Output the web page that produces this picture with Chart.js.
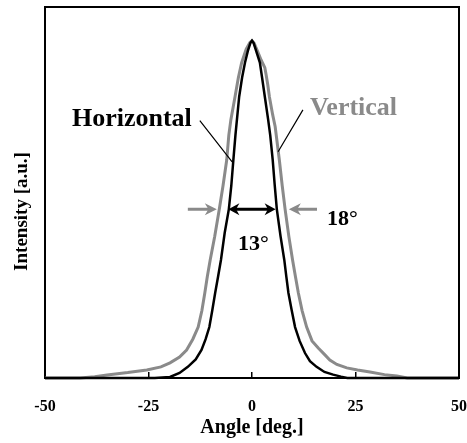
<!DOCTYPE html>
<html>
<head>
<meta charset="utf-8">
<script src="https://cdn.jsdelivr.net/npm/chart.js@4/dist/chart.umd.min.js"></script>
<style>
  html, body { margin: 0; padding: 0; background: #fff; }
  #wrap { width: 467px; height: 443px; }
</style>
</head>
<body>
<div id="wrap"><canvas id="profileChart"></canvas></div>
<script>
const angleTicks = [-50, -25, 0, 25, 50];

// Horizontal (black) beam profile
const horizontalAngle = [-50, -23.5, -19.8, -17.5, -15.5, -13.6, -12.2, -11.2, -10.3, -9.6, -8.9, -8.2, -7.5, -6.6, -5.6, -5.0, -4.5, -4.0, -3.1, -2.4, -1.7, -1.0, -0.4, 0, 0.4, 1.0, 1.9, 2.5, 3.1, 3.9, 4.4, 5.0, 5.5, 6.0, 6.9, 7.8, 8.3, 8.8, 9.6, 10.4, 11.5, 12.8, 14.0, 15.6, 17.5, 19.6, 21.5, 23.0, 50];
const horizontalIntensity = [0, 0, 0.003, 0.015, 0.033, 0.055, 0.083, 0.115, 0.151, 0.2, 0.252, 0.3, 0.35, 0.43, 0.5, 0.57, 0.647, 0.72, 0.834, 0.89, 0.935, 0.97, 0.993, 1, 0.993, 0.97, 0.935, 0.885, 0.834, 0.766, 0.72, 0.647, 0.57, 0.5, 0.42, 0.35, 0.3, 0.252, 0.2, 0.151, 0.11, 0.074, 0.05, 0.033, 0.018, 0.01, 0.004, 0, 0];

// Vertical (gray) beam profile
const verticalAngle = [-50, -41.5, -38, -35, -30, -25.4, -22, -19.8, -17.5, -15.8, -14.3, -13.0, -12.1, -11.4, -10.8, -10.1, -9.0, -7.9, -7.0, -6.1, -5.6, -5.1, -4.1, -3.3, -2.5, -1.4, -0.5, 0, 0.5, 1.3, 2.2, 3.1, 3.4, 3.8, 4.2, 5.0, 5.6, 6.6, 7.3, 8.0, 8.9, 9.8, 10.5, 11.2, 12.1, 13.2, 14.5, 16.0, 17.5, 18.8, 20.5, 22.9, 25.5, 28.5, 32, 35, 37.5, 50];
const verticalIntensity = [0, 0, 0.004, 0.009, 0.016, 0.024, 0.033, 0.045, 0.062, 0.083, 0.115, 0.151, 0.2, 0.252, 0.3, 0.35, 0.42, 0.5, 0.57, 0.647, 0.72, 0.766, 0.834, 0.89, 0.935, 0.975, 0.995, 1, 0.993, 0.97, 0.943, 0.92, 0.9, 0.87, 0.834, 0.78, 0.745, 0.647, 0.57, 0.5, 0.42, 0.35, 0.3, 0.252, 0.2, 0.151, 0.11, 0.089, 0.07, 0.053, 0.04, 0.03, 0.024, 0.018, 0.01, 0.006, 0, 0];

const GRAY = "#8a8a8a";
const SERIF = "'Liberation Serif', 'Times New Roman', serif";

Chart.defaults.font.family = SERIF;
Chart.defaults.font.weight = "bold";
Chart.defaults.color = "#000";

function toPoints(xs, ys) {
    return xs.map((x, i) => ({ x: x, y: ys[i] }));
}

function arrowHead(ctx, tipX, tipY, dir, len, half) {
    ctx.beginPath();
    ctx.moveTo(tipX, tipY);
    ctx.lineTo(tipX - dir * len, tipY - half);
    ctx.lineTo(tipX - dir * len * 0.7, tipY);
    ctx.lineTo(tipX - dir * len, tipY + half);
    ctx.closePath();
    ctx.fill();
}

// frame (top/right) + labels, leader lines and FWHM arrows
const annotations = {
    id: "annotations",
    afterDatasetsDraw(chart) {
        const { ctx, chartArea: a, scales } = chart;
        const px = (v) => scales.x.getPixelForValue(v);
        const py = (v) => scales.y.getPixelForValue(v);
        ctx.save();

        ctx.strokeStyle = "#000";
        ctx.lineWidth = 2;
        ctx.beginPath();
        ctx.moveTo(a.left - 1, a.top);
        ctx.lineTo(a.right, a.top);
        ctx.lineTo(a.right, a.bottom + 1);
        ctx.stroke();

        ctx.textBaseline = "alphabetic";
        ctx.textAlign = "left";
        ctx.font = "bold 26px " + SERIF;
        ctx.fillStyle = "#000";
        ctx.fillText("Horizontal", px(-43.5), py(0.748));
        ctx.fillStyle = GRAY;
        ctx.fillText("Vertical", px(14.0), py(0.78));

        ctx.lineWidth = 1.2;
        ctx.strokeStyle = "#000";
        ctx.beginPath();
        ctx.moveTo(px(-12.6), py(0.763));
        ctx.lineTo(px(-4.8), py(0.641));
        ctx.moveTo(px(12.3), py(0.795));
        ctx.lineTo(px(6.3), py(0.671));
        ctx.stroke();

        const yArrow = py(0.5);
        // black double arrow (13 deg)
        ctx.fillStyle = "#000";
        ctx.lineWidth = 3;
        ctx.beginPath();
        ctx.moveTo(px(-5.7) + 6, yArrow);
        ctx.lineTo(px(5.7) - 6, yArrow);
        ctx.stroke();
        arrowHead(ctx, px(-5.7), yArrow, -1, 11, 6);
        arrowHead(ctx, px(5.7), yArrow, 1, 11, 6);

        // gray arrows (18 deg)
        ctx.fillStyle = GRAY;
        ctx.strokeStyle = GRAY;
        ctx.beginPath();
        ctx.moveTo(px(-15.5), yArrow);
        ctx.lineTo(px(-8.5) - 6, yArrow);
        ctx.moveTo(px(15.7), yArrow);
        ctx.lineTo(px(8.9) + 6, yArrow);
        ctx.stroke();
        arrowHead(ctx, px(-8.5), yArrow, 1, 12, 6);
        arrowHead(ctx, px(8.9), yArrow, -1, 12, 6);

        ctx.fillStyle = "#000";
        ctx.font = "bold 22px " + SERIF;
        ctx.fillText("13°", px(-3.4), py(0.38));
        ctx.fillText("18°", px(18.1), py(0.454));

        ctx.restore();
    },
};

const ctx = document.getElementById("profileChart").getContext("2d");
new Chart(ctx, {
    type: "scatter",
    data: {
        datasets: [
            {
                label: "Horizontal",
                data: toPoints(horizontalAngle, horizontalIntensity),
                showLine: true,
                borderColor: "#000",
                borderWidth: 2.5,
                pointRadius: 0,
                tension: 0,
                clip: 4,
            },
            {
                label: "Vertical",
                data: toPoints(verticalAngle, verticalIntensity),
                showLine: true,
                borderColor: GRAY,
                borderWidth: 3,
                pointRadius: 0,
                tension: 0,
                clip: 4,
            },
        ],
    },
    options: {
        responsive: true,
        maintainAspectRatio: false,
        animation: false,
        layout: {
            padding: { top: 7, right: 8, left: 0, bottom: 0 },
        },
        plugins: {
            legend: { display: false },
            tooltip: { enabled: false },
        },
        scales: {
            x: {
                type: "linear",
                min: -50,
                max: 50,
                afterBuildTicks: (scale) => {
                    scale.ticks = angleTicks.map((v) => ({ value: v }));
                },
                afterFit: (scale) => {
                    scale.height = 65;
                    scale.paddingLeft = 0;
                    scale.paddingRight = 0;
                },
                ticks: {
                    font: { size: 16, weight: "bold" },
                    padding: 25,
                    maxRotation: 0,
                    autoSkip: false,
                },
                grid: {
                    drawOnChartArea: false,
                    drawTicks: true,
                    tickLength: -6,
                    color: "#000",
                    lineWidth: 1.5,
                },
                border: { display: true, color: "#000", width: 2 },
                title: {
                    display: true,
                    text: "Angle [deg.]",
                    font: { size: 20, weight: "bold" },
                    padding: { top: 0, bottom: 3 },
                },
            },
            y: {
                min: 0,
                max: 1.1,
                afterFit: (scale) => {
                    scale.width = 45;
                    scale.paddingTop = 0;
                    scale.paddingBottom = 0;
                },
                ticks: { display: false },
                grid: { display: false },
                border: { display: true, color: "#000", width: 2 },
                title: {
                    display: true,
                    // trailing spaces push the rotated title a bit lower, as in the original
                    text: "Intensity [a.u.]\u2007\u2007\u2007\u2007",
                    font: { size: 19, weight: "bold" },
                    padding: { top: 11, bottom: 0 },
                },
            },
        },
    },
    plugins: [annotations],
});
</script>
</body>
</html>
